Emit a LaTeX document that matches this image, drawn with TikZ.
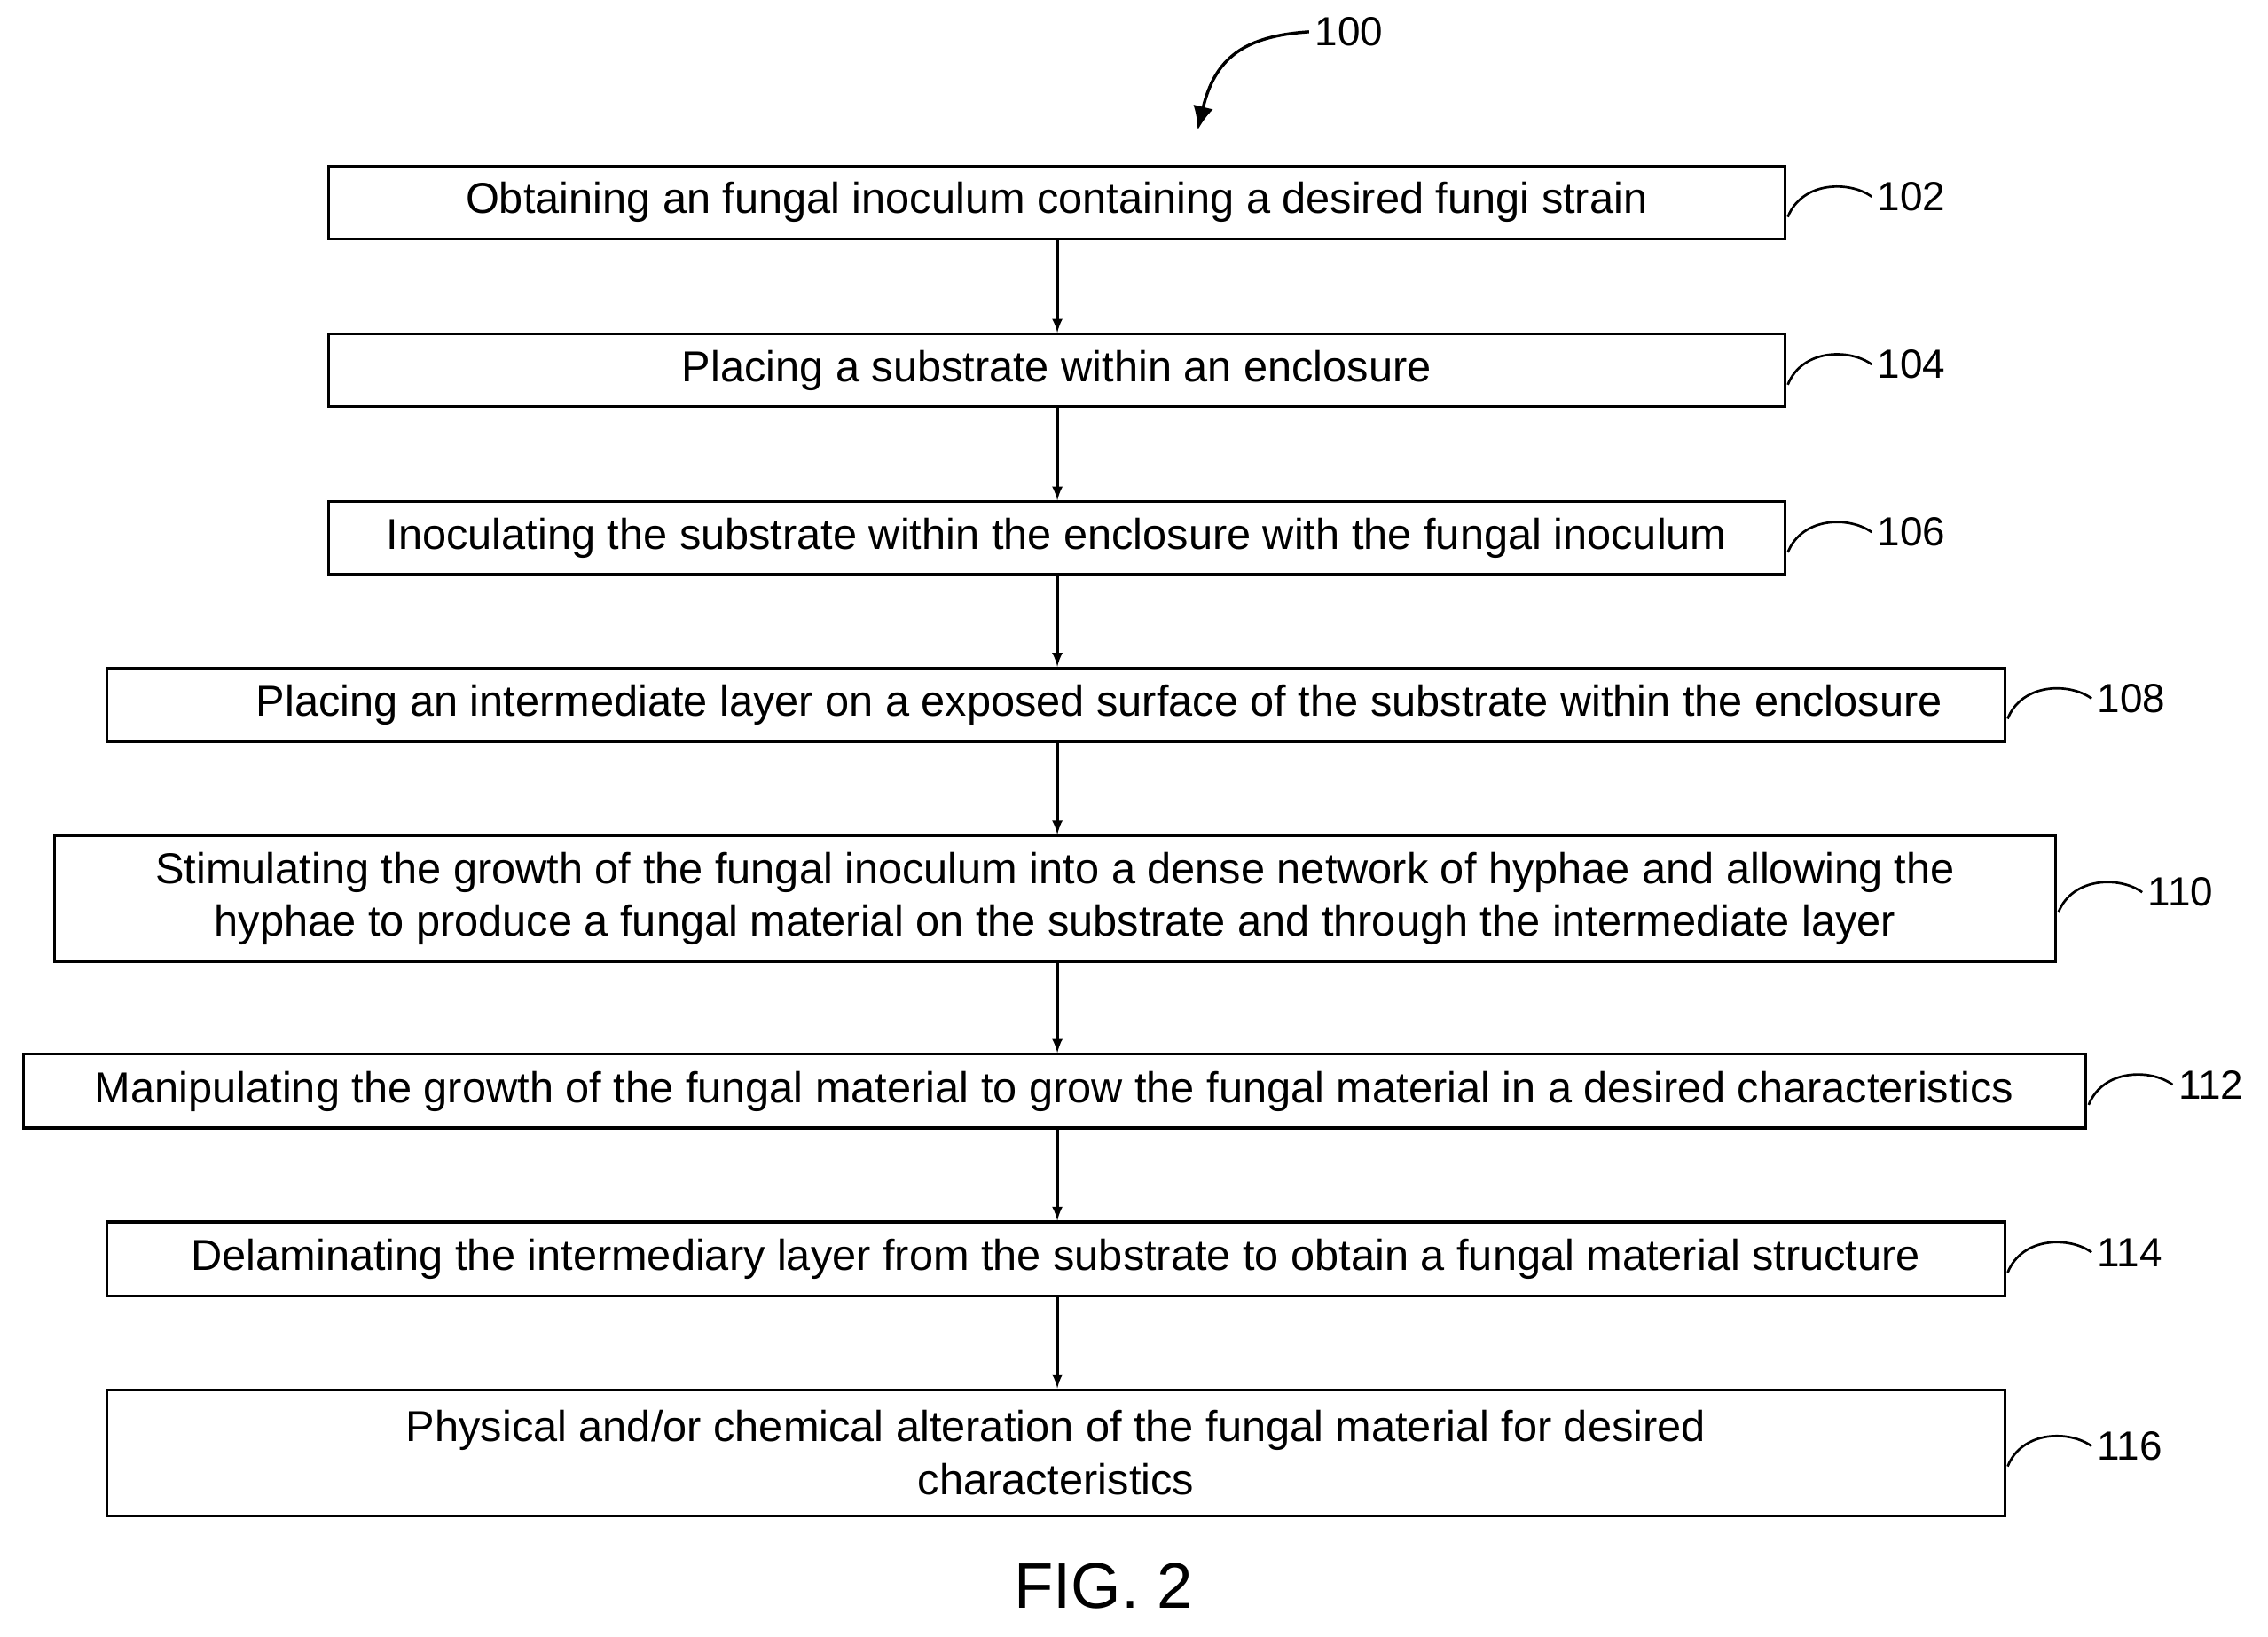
\documentclass[tikz,border=0pt]{standalone}
\usepackage{fontspec}
\setmainfont{Liberation Sans}
\usetikzlibrary{arrows.meta}
\begin{document}
\begin{tikzpicture}[x=0.3mm,y=-0.3mm,
 box/.style={draw,line width=1.6pt,inner sep=0pt,align=center,font=\fontsize{25.5}{31}\selectfont},
 lbl/.style={font=\fontsize{24}{28}\selectfont,anchor=west},
 arr/.style={-latex,line width=1.8pt},
 hook/.style={line width=1.4pt}]
\useasboundingbox (0,0) rectangle (1568,1132);
\newcommand{\stp}[6]{% name,x1,x2,y1,y2,text
 \pgfmathsetmacro{\ww}{(#3-#2)*0.3}\pgfmathsetmacro{\hh}{(#5-#4)*0.3}%
 \node[box,minimum width=\ww mm,minimum height=\hh mm] (#1) at ({(#2+#3)/2},{(#4+#5)/2}) {#6};}
\stp{b102}{227}{1234}{115}{165}{Obtaining an fungal inoculum containing a desired fungi strain}
\stp{b104}{227}{1234}{231}{281}{Placing a substrate within an enclosure}
\stp{b106}{227}{1234}{347}{397}{Inoculating the substrate within the enclosure with the fungal inoculum}
\stp{b108}{74}{1386}{462}{513}{\hspace*{18mm}Placing an intermediate layer on a exposed surface of the substrate within the enclosure}
\stp{b110}{38}{1421}{578}{665}{Stimulating the growth of the fungal inoculum into a dense network of hyphae and allowing the\\hyphae to produce a fungal material on the substrate and through the intermediate layer}
\stp{b112}{16}{1442}{729}{780}{Manipulating the growth of the fungal material to grow the fungal material in a desired characteristics}
\stp{b114}{74}{1386}{845}{896}{Delaminating the intermediary layer from the substrate to obtain a fungal material structure}
\stp{b116}{74}{1386}{961}{1048}{Physical and/or chemical alteration of the fungal material for desired\\characteristics}
\foreach \a/\b in {b102/b104,b104/b106,b106/b108,b108/b110,b110/b112,b112/b114,b114/b116}
 \draw[arr] (\a.south -| 731,0) -- (\b.north -| 731,0);
\foreach \n/\x/\y in {102/1234/140,104/1234/256,106/1234/372,108/1386/487,110/1421/621,112/1442/754,114/1386/870,116/1386/1004}{
 \coordinate (h\n) at (\x+2,\y+10);
 \draw[hook] (h\n) .. controls (\x+12,\y-15) and (\x+45,\y-15) .. (\x+60,\y-4);
 \node[lbl] (l\n) at (\x+60,\y-4) {\n};}
\node[lbl] (l100) at (905,22) {100};
\coordinate (t100) at (828,90);
\draw[line width=1.8pt,-{Latex[length=14pt,width=12pt]}] (l100.west) .. controls (860,25) and (840,40) .. (t100);
\node[font=\fontsize{38}{42}\selectfont] (fig) at (763,1097) {FIG. 2};
\end{tikzpicture}
\end{document}
